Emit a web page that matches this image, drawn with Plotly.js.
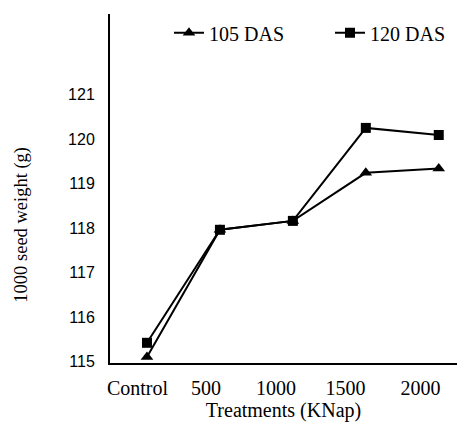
<!DOCTYPE html>
<html>
<head>
<meta charset="utf-8">
<script src="https://cdn.plot.ly/plotly-3.0.1.min.js"></script>
<style>html,body{margin:0;padding:0;background:#fff;}#chart{width:457px;height:422px;}</style>
</head>
<body>
<div id="chart"></div>
<script>
var categories = ["Control", "500", "1000", "1500", "2000"];
var das105 = [115.1, 117.96, 118.16, 119.24, 119.34];
var das120 = [115.42, 117.96, 118.16, 120.25, 120.09];
var yTicks = [115, 116, 117, 118, 119, 120, 121];
var xIdx = [0, 1, 2, 3, 4];
var xLabelPos = [-0.13, 0.81, 1.77, 2.72, 3.75];

var serif = "Liberation Serif, Times New Roman, serif";
var sans = "Liberation Sans, Arial, sans-serif";

var traces = [
  {x: xIdx, y: das105, name: "105 DAS", mode: "lines+markers", type: "scatter", legend: "legend",
   line: {color: "#000", width: 2}, marker: {symbol: "triangle-up", size: 11, color: "#000"}},
  {x: xIdx, y: das120, name: "120 DAS", mode: "lines+markers", type: "scatter", legend: "legend2",
   line: {color: "#000", width: 2}, marker: {symbol: "square", size: 10, color: "#000"}}
];

var legFont = {family: serif, size: 20, color: "#000"};
var layout = {
  width: 457, height: 422,
  margin: {l: 110, r: 0, t: 14, b: 59, pad: 0},
  paper_bgcolor: "#fff", plot_bgcolor: "#fff",
  showlegend: true,
  legend: {orientation: "h", x: 0.17, xanchor: "left", y: 0.946, yanchor: "middle",
           font: legFont, bgcolor: "rgba(0,0,0,0)"},
  legend2: {orientation: "h", x: 0.634, xanchor: "left", y: 0.946, yanchor: "middle",
           font: legFont, bgcolor: "rgba(0,0,0,0)"},
  xaxis: {range: [-0.507, 4.25], showgrid: false, zeroline: false, showline: true,
          linecolor: "#000", linewidth: 2, tickmode: "array", tickvals: xLabelPos, ticktext: categories,
          ticks: "", ticklabelstandoff: 6, tickfont: {family: serif, size: 20, color: "#000"},
          title: {text: "Treatments (KNap)", font: {family: serif, size: 20, color: "#000"}, standoff: 3}},
  yaxis: {range: [114.966, 122.81], showgrid: false, zeroline: false, showline: true,
          linecolor: "#000", linewidth: 2, tickmode: "array", tickvals: yTicks,
          ticks: "", ticklabelstandoff: 10, tickfont: {family: sans, size: 16, color: "#000"}},
  annotations: [{text: "1000 seed weight (g)", xref: "paper", yref: "paper", x: -0.255, y: 0.395,
                 xanchor: "center", yanchor: "middle", textangle: -90, showarrow: false,
                 font: {family: serif, size: 18.5, color: "#000"}}]
};

Plotly.newPlot("chart", traces, layout, {displayModeBar: false, staticPlot: true});
</script>
</body>
</html>
